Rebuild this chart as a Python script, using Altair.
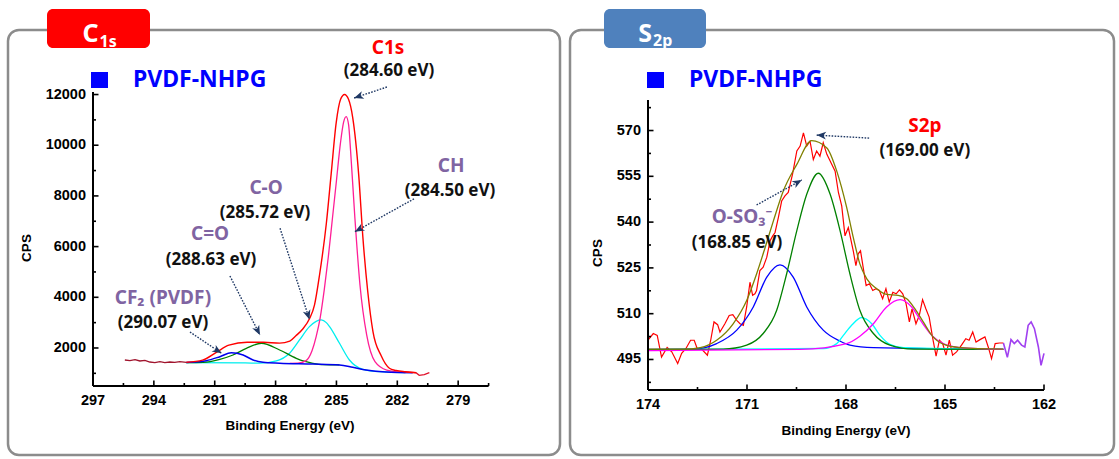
import altair as alt
import pandas as pd

# ---------------- C1s panel (left) ----------------
c1s_raw_left_E = [295.43, 295.18, 294.93, 294.69, 294.44, 294.2, 293.95, 293.7, 293.46, 293.21, 292.97, 292.72, 292.4]
c1s_raw_left_C = [1526, 1500, 1540, 1487, 1514, 1447, 1420, 1460, 1420, 1447, 1434, 1460, 1435]
c1s_raw_right_E = [281.6, 281.08, 280.92, 280.67, 280.42]
c1s_raw_right_C = [1060, 1024, 920, 946, 1024]

c1s_env_E = [292.4, 291.6, 290.9, 290.3, 289.4, 288.6, 287.8, 287.3, 287.0, 286.66, 286.33, 286.08, 285.83,
             285.5, 285.26, 285.01, 284.8, 284.6, 284.4, 284.2, 283.9, 283.7, 283.46, 283.2, 282.8, 282.39,
             282.06, 281.6, 281.08]
c1s_env_C = [1435, 1520, 1840, 2110, 2225, 2225, 2190, 2270, 2480, 2750, 3150, 3700, 4900,
             6900, 8870, 10900, 11800, 12000, 11800, 11100, 8800, 6400, 4250, 2650, 1700, 1200,
             1110, 1060, 1024]

ch_E = [287.3, 286.9, 286.5, 286.2, 286.0, 285.8, 285.6, 285.4, 285.2, 285.0, 284.8, 284.65, 284.52,
        284.4, 284.3, 284.09, 283.84, 283.51, 283.1, 282.52, 281.6]
ch_C = [1395, 1400, 1500, 1900, 2450, 3200, 4300, 5600, 7100, 8600, 10100, 10900, 11130,
        10800, 9745, 7117, 4485, 2513, 1460, 1130, 1030]

co_E = [292.4, 289.5, 288.79, 287.96, 287.31, 286.82, 286.33, 286.0, 285.75, 285.5, 285.34, 284.85,
        284.36, 283.7, 282.88, 281.6]
co_C = [1420, 1410, 1400, 1490, 1790, 2316, 2841, 3050, 3106, 3000, 2841, 2186,
        1526, 1160, 1064, 1030]

cdo_E = [292.4, 291.57, 290.75, 290.1, 289.44, 288.7, 287.8, 286.98, 286.6, 286.16, 285.67, 284.85]
cdo_C = [1425, 1435, 1553, 1724, 1988, 2186, 1921, 1593, 1480, 1395, 1340, 1330]

cf2_E = [292.4, 292.23, 291.41, 290.75, 290.18, 289.6, 289.11, 288.62, 287.8, 286.16, 284.85, 284.2,
         283.54, 282.55, 281.24]
cf2_C = [1430, 1435, 1500, 1657, 1815, 1724, 1526, 1435, 1400, 1368, 1330, 1238,
         1130, 1050, 1024]

left_lab_text = ["C-O", "C=O", "CH", "CF\u2082 (PVDF)"]
left_lab_E = [288.47, 291.23, 279.35, 293.55]
left_lab_C = [8300, 6480, 9180, 3960]
left_val_text = ["(285.72 eV)", "(288.63 eV)", "(284.50 eV)", "(290.07 eV)", "(284.60 eV)"]
left_val_E = [288.52, 291.18, 279.40, 293.55, 282.41]
left_val_C = [7330, 5480, 8200, 2990, 12929]
left_red_text = ["C1s"]
left_red_E = [282.46]
left_red_C = [13836]

left_arrow_tail_E = [282.51, 281.13, 287.78, 290.25, 292.22]
left_arrow_tail_C = [12297, 7906, 6722, 4840, 2631]
left_arrow_head_E = [284.13, 284.09, 286.33, 288.77, 290.66]
left_arrow_head_C = [11863, 6588, 3124, 2512, 1790]
left_arrow_angle = [251.6, 240.9, 162.2, 153.1, 122.2]

left_x_extent = [297, 277.5]
left_y_extent = [500, 12100]
left_x_major = [297, 294, 291, 288, 285, 282, 279]
left_x_labels = ["297", "294", "291", "288", "285", "282", "279"]
left_x_minor = [295.5, 292.5, 289.5, 286.5, 283.5, 280.5, 277.5]
left_y_major = [2000, 4000, 6000, 8000, 10000, 12000]
left_y_labels = ["2000", "4000", "6000", "8000", "10000", "12000"]
left_y_minor = [1000, 3000, 5000, 7000, 9000, 11000]

# ---------------- S2p panel (right) ----------------
s2p_raw_E = [174.0, 173.84, 173.72, 173.59, 173.42, 173.28, 173.1, 172.98, 172.85, 172.71, 172.6, 172.51,
             172.37, 172.2, 172.1, 172.0, 171.89, 171.82, 171.67, 171.54, 171.43, 171.31, 171.21, 171.11,
             171.01, 170.91, 170.83, 170.76, 170.71, 170.61, 170.51, 170.4, 170.3, 170.22, 170.15, 170.05,
             169.95, 169.85, 169.75, 169.62, 169.49, 169.39, 169.29, 169.19, 169.09, 168.99, 168.89, 168.79,
             168.69, 168.58, 168.48, 168.33, 168.23, 168.13, 168.03, 167.93, 167.78, 167.7, 167.63, 167.56,
             167.48, 167.39, 167.29, 167.19, 167.09, 166.99, 166.89, 166.79, 166.69, 166.58, 166.48, 166.38,
             166.28, 166.18, 166.08, 166.0, 165.88, 165.78, 165.68, 165.58, 165.48, 165.37, 165.27, 165.17,
             165.07, 164.97, 164.87, 164.77, 164.65, 164.5, 164.37, 164.27, 164.16, 164.06, 163.94, 163.79,
             163.69, 163.59, 163.48, 163.35, 163.23]
s2p_raw_C = [501.3, 503.5, 502.9, 495.8, 498.9, 497.5, 493.7, 497.0, 498.6, 501.3, 501.3, 498.6,
             498.3, 496.4, 501.3, 507.3, 506.4, 504.0, 506.7, 509.4, 509.7, 507.8, 506.7, 506.2,
             512.2, 520.3, 516.0, 516.5, 517.6, 524.1, 525.2, 528.5, 533.9, 535.5, 536.6, 541.5,
             546.9, 548.6, 549.7, 555.7, 563.3, 564.9, 569.2, 564.9, 566.5, 560.5, 563.3, 561.6,
             566.0, 562.2, 560.0, 556.7, 549.7, 545.3, 535.5, 538.2, 530.6, 525.7, 529.6, 530.6,
             525.2, 519.2, 519.8, 517.6, 518.2, 517.6, 514.9, 518.2, 513.8, 517.0, 516.5, 517.8,
             516.5, 513.3, 507.3, 511.6, 506.7, 509.4, 514.6, 511.6, 508.9, 501.8, 496.1, 501.3,
             500.2, 496.4, 501.3, 496.4, 497.5, 499.7, 501.8, 501.3, 504.0, 500.7, 501.5, 502.4,
             499.1, 495.3, 500.2, 500.4, 500.4]
s2p_tail_E = [163.23, 163.11, 163.0, 162.9, 162.8, 162.68, 162.58, 162.48, 162.39, 162.29, 162.17, 162.09, 162.0]
s2p_tail_C = [500.4, 495.7, 501.5, 500.2, 501.3, 499.7, 499.1, 506.2, 507.3, 505.1, 499.1, 493.1, 497.0]

s2p_env_E = [174.0, 172.93, 172.42, 171.92, 171.42, 171.01, 170.71, 170.45, 170.2, 169.9, 169.49, 169.04,
             168.58, 168.28, 167.98, 167.78, 167.58, 167.37, 167.07, 166.77, 166.42, 166.16, 165.91, 165.66,
             165.4, 165.05, 164.55, 163.23]
s2p_env_C = [498.4, 498.4, 498.9, 501.3, 506.7, 514.3, 523.0, 531.7, 540.4, 550.2, 558.9, 566.7,
             564.3, 556.7, 544.8, 535.0, 526.3, 521.4, 518.2, 516.3, 516.0, 514.9, 511.6, 507.3,
             502.9, 500.0, 498.9, 498.4]

oso3_E = [174.0, 171.72, 171.01, 170.51, 170.1, 169.8, 169.49, 169.19, 168.84, 168.48, 168.18, 167.88,
          167.58, 167.17, 166.67, 165.96, 163.23]
oso3_C = [498.2, 498.4, 499.7, 503.5, 511.1, 523.0, 537.2, 549.1, 556.0, 549.1, 537.2, 523.0,
          511.1, 503.5, 499.7, 498.4, 498.3]

s2p_blue_E = [174.0, 172.63, 171.92, 171.31, 170.81, 170.4, 170.0, 169.6, 169.19, 168.69, 168.18, 167.88,
              167.17, 163.23]
s2p_blue_C = [498.3, 498.4, 500.2, 504.6, 512.2, 522.0, 526.0, 522.0, 512.2, 504.6, 501.0, 499.7,
              498.9, 498.3]

s2p_cyan_E = [174.0, 168.69, 168.28, 168.08, 167.83, 167.53, 167.22, 166.97, 166.67, 166.26, 163.23]
s2p_cyan_C = [498.2, 498.6, 500.2, 502.9, 506.2, 508.7, 506.7, 502.9, 500.0, 498.9, 498.3]

s2p_mag_E = [174.0, 169.39, 167.98, 167.58, 167.17, 166.77, 166.36, 166.01, 165.71, 165.4, 165.05, 164.55,
             163.23]
s2p_mag_C = [497.9, 498.3, 500.2, 502.6, 506.7, 512.2, 514.6, 512.2, 507.3, 502.9, 500.2, 498.9,
             498.3]

right_lab_text = ["O-SO\u2083\u207b"]
right_lab_E = [171.15]
right_lab_C = [541.6]
right_val_text = ["(168.85 eV)", "(169.00 eV)"]
right_val_E = [171.30, 165.61]
right_val_C = [533.3, 563.4]
right_red_text = ["S2p"]
right_red_E = [165.61]
right_red_C = [571.4]

right_arrow_tail_E = [167.27, 170.71]
right_arrow_tail_C = [567.5, 545.6]
right_arrow_head_E = [168.89, 169.34]
right_arrow_head_C = [568.5, 553.8]
right_arrow_angle = [273.5, 60.9]

right_x_extent = [174, 162]
right_y_extent = [485, 580]
right_x_major = [174, 171, 168, 165, 162]
right_x_labels = ["174", "171", "168", "165", "162"]
right_x_minor = [172.5, 169.5, 166.5, 163.5]
right_y_major = [495, 510, 525, 540, 555, 570]
right_y_labels = ["495", "510", "525", "540", "555", "570"]
right_y_minor = [487.5, 502.5, 517.5, 532.5, 547.5, 562.5, 577.5]

# ---------------- scales ----------------
XL = alt.Scale(domain=left_x_extent, range=[0, 395.6], nice=False, zero=False)
YL = alt.Scale(domain=left_y_extent, range=[294, 0], nice=False, zero=False)
XR = alt.Scale(domain=right_x_extent, range=[555, 951], nice=False, zero=False)
YR = alt.Scale(domain=right_y_extent, range=[298, 8], nice=False, zero=False)

ONE = pd.DataFrame({"k": [0]})
ANN_FONT = "Noto Sans"
AX_FONT = "Liberation Sans"


def X(field, xs):
    return alt.X(field, scale=xs, axis=None)


def Y(field, ys):
    return alt.Y(field, scale=ys, axis=None)


def line(E, C, color, xs, ys, width=1.3, interp="monotone"):
    df = pd.DataFrame({"E": E, "C": C})
    return alt.Chart(df).mark_line(color=color, strokeWidth=width, interpolate=interp).encode(
        x=X("E:Q", xs), y=Y("C:Q", ys))


def texts(T, E, C, xs, ys, color, size):
    df = pd.DataFrame({"T": T, "E": E, "C": C})
    return alt.Chart(df).mark_text(color=color, fontSize=size, fontWeight="bold", font=ANN_FONT,
                                   align="center", baseline="middle").encode(
        x=X("E:Q", xs), y=Y("C:Q", ys), text="T:N")


ARROW = "M0,0L0.75,1.8L0,1.3L-0.75,1.8Z"


def arrows(tE, tC, hE, hC, ang, xs, ys):
    n = len(tE)
    ldf = pd.DataFrame({"id": list(range(n)) * 2, "E": tE + hE, "C": tC + hC})
    lines = alt.Chart(ldf).mark_line(color="#1f3864", strokeWidth=1.4, strokeDash=[1.6, 1.4]).encode(
        x=X("E:Q", xs), y=Y("C:Q", ys), detail="id:N")
    hdf = pd.DataFrame({"E": hE, "C": hC, "a": ang})
    heads = alt.Chart(hdf).mark_point(shape=ARROW, filled=True, color="#1f3864", opacity=1, size=110).encode(
        x=X("E:Q", xs), y=Y("C:Q", ys), angle=alt.Angle("a:Q", scale=None))
    return [lines, heads]


def x_axis(extent, major, labels, minor, xs, y0, label_y):
    dom = alt.Chart(pd.DataFrame({"E": [extent[0]], "E2": [extent[1]]})).mark_rule(
        color="black", strokeWidth=2).encode(x=X("E:Q", xs), x2=alt.X2("E2"), y=alt.value(y0))
    tmaj = alt.Chart(pd.DataFrame({"E": major})).mark_rule(color="black", strokeWidth=1.6).encode(
        x=X("E:Q", xs), y=alt.value(y0), y2=alt.value(y0 - 5.5))
    tmin = alt.Chart(pd.DataFrame({"E": minor})).mark_rule(color="black", strokeWidth=1.6).encode(
        x=X("E:Q", xs), y=alt.value(y0), y2=alt.value(y0 - 3))
    lab = alt.Chart(pd.DataFrame({"E": major, "T": labels})).mark_text(
        font=AX_FONT, fontWeight="bold", fontSize=14.5, color="black", align="center", baseline="middle").encode(
        x=X("E:Q", xs), y=alt.value(label_y), text="T:N")
    return [dom, tmaj, tmin, lab]


def y_axis(extent, major, labels, minor, ys, x0):
    dom = alt.Chart(pd.DataFrame({"C": [extent[0]], "C2": [extent[1]]})).mark_rule(
        color="black", strokeWidth=2).encode(y=Y("C:Q", ys), y2=alt.Y2("C2"), x=alt.value(x0))
    tmaj = alt.Chart(pd.DataFrame({"C": major})).mark_rule(color="black", strokeWidth=1.6).encode(
        y=Y("C:Q", ys), x=alt.value(x0), x2=alt.value(x0 + 5.5))
    tmin = alt.Chart(pd.DataFrame({"C": minor})).mark_rule(color="black", strokeWidth=1.6).encode(
        y=Y("C:Q", ys), x=alt.value(x0), x2=alt.value(x0 + 3))
    lab = alt.Chart(pd.DataFrame({"C": major, "T": labels})).mark_text(
        font=AX_FONT, fontWeight="bold", fontSize=14.5, color="black", align="right", baseline="middle").encode(
        y=Y("C:Q", ys), x=alt.value(x0 - 7), text="T:N")
    return [dom, tmaj, tmin, lab]


def rect(x1, x2, y1, y2, **kw):
    return alt.Chart(ONE).mark_rect(**kw).encode(x=alt.value(x1), x2=alt.value(x2), y=alt.value(y1), y2=alt.value(y2))


def ptext(t, x, y, **kw):
    return alt.Chart(ONE).mark_text(text=t, **kw).encode(x=alt.value(x), y=alt.value(y))


TITLE = dict(font=AX_FONT, fontWeight="bold", fontSize=13.5, color="black", align="center", baseline="middle")

# decorations (frames, tabs, legend entries, axis titles)
deco = [
    rect(-85, 467, -62, 363, fill="white", stroke="#8c8c8c", strokeWidth=2.5, cornerRadius=11),
    rect(477, 1021, -62, 363, fill="white", stroke="#8c8c8c", strokeWidth=2.5, cornerRadius=11),
    rect(-46, 57, -83, -44, fill="#ff0000", cornerRadius=6),
    rect(511, 613, -83, -44, fill="#4f81bd", cornerRadius=6),
    ptext("C", 5.5, -50, color="white", fontSize=25, fontWeight="bold", font=ANN_FONT, align="right", baseline="alphabetic"),
    ptext("1s", 6.5, -45, color="white", fontSize=16, fontWeight="bold", font=ANN_FONT, align="left", baseline="alphabetic"),
    ptext("S", 559, -50, color="white", fontSize=25, fontWeight="bold", font=ANN_FONT, align="right", baseline="alphabetic"),
    ptext("2p", 560, -46, color="white", fontSize=16, fontWeight="bold", font=ANN_FONT, align="left", baseline="alphabetic"),
    rect(-2, 15, -20, -4, fill="#0000ff"),
    rect(554, 571, -20, -4, fill="#0000ff"),
    ptext("PVDF-NHPG", 40, -12, color="#0000ff", fontSize=23, fontWeight="bold", font=ANN_FONT,
          align="left", baseline="middle"),
    ptext("PVDF-NHPG", 596, -12, color="#0000ff", fontSize=23, fontWeight="bold", font=ANN_FONT,
          align="left", baseline="middle"),
    ptext("Binding Energy (eV)", 197, 334, **TITLE),
    ptext("Binding Energy (eV)", 753, 339, **TITLE),
    ptext("CPS", -66, 156, angle=270, **TITLE),
    ptext("CPS", 505, 161, angle=270, **TITLE),
]

left_layers = [
    line(co_E, co_C, "#00eeee", XL, YL),
    line(cdo_E, cdo_C, "#008000", XL, YL),
    line(ch_E, ch_C, "#ff1e96", XL, YL),
    line(cf2_E, cf2_C, "#0000ee", XL, YL, width=1.5),
    line(c1s_raw_left_E, c1s_raw_left_C, "#a0142d", XL, YL, interp="linear"),
    line(c1s_raw_right_E, c1s_raw_right_C, "#e0102a", XL, YL, interp="linear"),
    line(c1s_env_E, c1s_env_C, "#ff0000", XL, YL, width=1.4),
] + x_axis(left_x_extent, left_x_major, left_x_labels, left_x_minor, XL, 294, 309) \
  + y_axis(left_y_extent, left_y_major, left_y_labels, left_y_minor, YL, 0) + [
    texts(left_lab_text, left_lab_E, left_lab_C, XL, YL, "#8064a2", 19),
    texts(left_val_text, left_val_E, left_val_C, XL, YL, "#111111", 17),
    texts(left_red_text, left_red_E, left_red_C, XL, YL, "#ff0000", 19),
] + arrows(left_arrow_tail_E, left_arrow_tail_C, left_arrow_head_E, left_arrow_head_C, left_arrow_angle, XL, YL)

right_layers = [
    line(s2p_raw_E, s2p_raw_C, "#ff0000", XR, YR, width=1.2, interp="linear"),
    line(s2p_blue_E, s2p_blue_C, "#0000ff", XR, YR),
    line(s2p_cyan_E, s2p_cyan_C, "#00ffff", XR, YR),
    line(oso3_E, oso3_C, "#008000", XR, YR),
    line(s2p_mag_E, s2p_mag_C, "#ff00ff", XR, YR),
    line(s2p_env_E, s2p_env_C, "#808000", XR, YR),
    line(s2p_tail_E, s2p_tail_C, "#a040f0", XR, YR, width=1.6, interp="linear"),
] + x_axis(right_x_extent, right_x_major, right_x_labels, right_x_minor, XR, 298, 313) \
  + y_axis(right_y_extent, right_y_major, right_y_labels, right_y_minor, YR, 555) + [
    texts(right_lab_text, right_lab_E, right_lab_C, XR, YR, "#8064a2", 19),
    texts(right_val_text, right_val_E, right_val_C, XR, YR, "#111111", 17),
    texts(right_red_text, right_red_E, right_red_C, XR, YR, "#ff0000", 19),
] + arrows(right_arrow_tail_E, right_arrow_tail_C, right_arrow_head_E, right_arrow_head_C, right_arrow_angle, XR, YR)

left = alt.layer(*left_layers)
right = alt.layer(*right_layers)
deco_layer = alt.layer(*deco)

chart = alt.layer(deco_layer, left, right).resolve_scale(x="independent", y="independent").properties(
    width=951, height=298,
    padding={"left": 93, "top": 92, "right": 75, "bottom": 69},
    autosize=alt.AutoSizeParams(type="none"),
    background="white",
).configure_view(stroke=None)

chart.save("out.html", embed_options={"renderer": "svg", "actions": False})
